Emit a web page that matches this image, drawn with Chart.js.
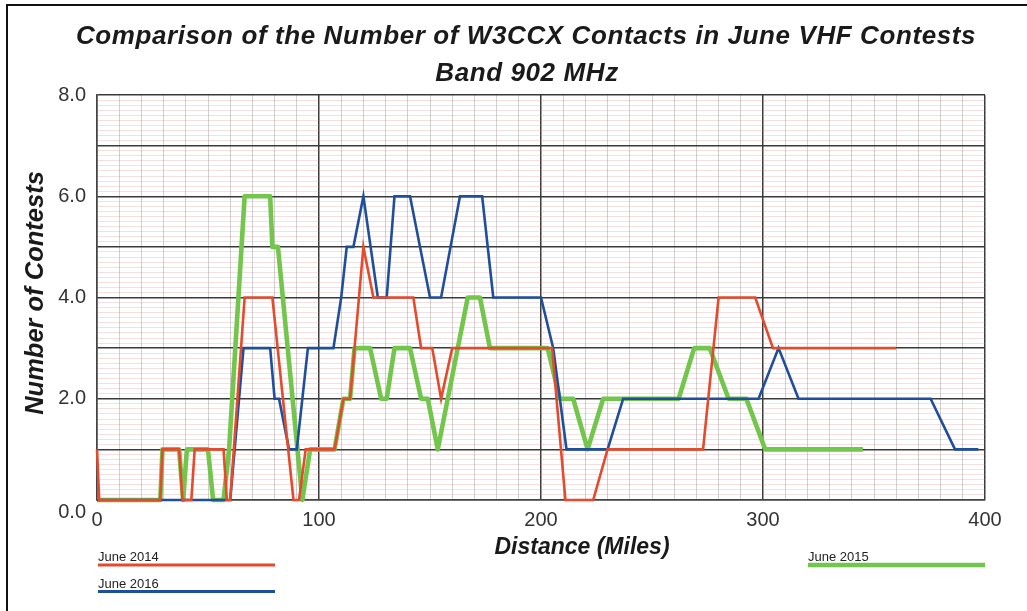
<!DOCTYPE html>
<html>
<head>
<meta charset="utf-8">
<script src="https://cdn.jsdelivr.net/npm/chart.js@4.4.1/dist/chart.umd.min.js"></script>
<style>
  html, body { margin: 0; padding: 0; background: #fff; }
  #wrap { position: relative; width: 1027px; height: 611px; }
</style>
</head>
<body>
<div id="wrap"><canvas id="myChart" width="1027" height="611"></canvas></div>
<script>
// 제목 / 축 이름
const titleLines = ['Comparison of the Number of W3CCX Contacts in June VHF Contests', 'Band 902 MHz'];
const xTitle = 'Distance (Miles)';
const yTitle = 'Number of Contests';

// June 2014 (빨강)
const dist2014 = [0, 1, 28.5, 29.5, 37, 38.5, 42.5, 44, 57, 58.5, 60, 66.5, 79, 88.5, 91, 94, 107, 111, 114, 120, 124.5, 142.5, 146, 151, 155, 160, 205, 211, 223.5, 230, 273, 280, 296.5, 304.5, 360];
const count2014 = [1, 0, 0, 1, 1, 0, 0, 1, 1, 0, 0, 4, 4, 0, 0, 1, 1, 2, 2, 5, 4, 4, 3, 3, 2, 3, 3, 0, 0, 1, 1, 4, 4, 3, 3];

// June 2016 (파랑)
const dist2016 = [0, 60, 66, 78, 80, 82, 86.5, 90, 95, 106.5, 110, 112.5, 115.5, 120, 126.5, 130.5, 134, 141, 150, 155, 163.5, 173.5, 178.5, 200, 205.5, 208.5, 211.5, 230, 237, 298, 307, 316, 375.5, 386.5, 397];
const count2016 = [0, 0, 3, 3, 2, 2, 1, 1, 3, 3, 4, 5, 5, 6, 4, 4, 6, 6, 4, 4, 6, 6, 4, 4, 3, 2, 1, 1, 2, 2, 3, 2, 2, 1, 1];

// June 2015 (초록)
const dist2015 = [0, 28.5, 29.5, 37, 38.8, 40.5, 50, 52.3, 57, 59.5, 66.5, 78, 79, 81.5, 92.5, 96, 107, 111, 114, 116, 123, 128, 130.5, 134, 141, 146, 149, 153.5, 162.5, 167, 172.5, 177, 203, 208.5, 214.5, 221, 228, 262, 269, 276, 284.5, 292.5, 301, 345];
const count2015 = [0, 0, 1, 1, 0, 1, 1, 0, 0, 1, 6, 6, 5, 5, 0, 1, 1, 2, 2, 3, 3, 2, 2, 3, 3, 2, 2, 1, 3, 4, 4, 3, 3, 2, 2, 1, 2, 2, 3, 3, 2, 2, 1, 1];

const RED = '#e44a2c';
const BLUE = '#1f4f9c';
const GREEN = '#72c64c';
const FONT = '"Liberation Sans", Arial, sans-serif';

function toPoints(xs, ys) {
  return xs.map((x, i) => ({ x: x, y: ys[i] }));
}

// 제목, 축 이름, 범례, 바깥 테두리
const decorations = {
  id: 'decorations',
  afterDraw(chart) {
    const ctx = chart.ctx;
    const area = chart.chartArea;
    ctx.save();

    ctx.strokeStyle = '#111';
    ctx.lineWidth = 2;
    ctx.beginPath();
    ctx.moveTo(7, 611);
    ctx.lineTo(7, 5);
    ctx.lineTo(1027, 5);
    ctx.stroke();

    ctx.fillStyle = '#1a1a1a';
    ctx.textAlign = 'center';
    ctx.textBaseline = 'alphabetic';
    ctx.font = 'italic bold 26px ' + FONT;
    ctx.letterSpacing = '0.6px';
    ctx.fillText(titleLines[0], 526, 44);
    ctx.fillText(titleLines[1], 527, 81);
    ctx.letterSpacing = '0px';

    ctx.font = 'italic bold 23px ' + FONT;
    ctx.fillText(xTitle, 582, 554);

    ctx.save();
    ctx.font = 'italic bold 25.5px ' + FONT;
    ctx.translate(43, 293);
    ctx.rotate(-Math.PI / 2);
    ctx.fillText(yTitle, 0, 0);
    ctx.restore();

    // 0.0 눈금은 원본처럼 조금 아래로
    ctx.textAlign = 'right';
    ctx.textBaseline = 'middle';
    ctx.fillStyle = '#333';
    ctx.font = '20px ' + FONT;
    ctx.fillText((0).toFixed(1), area.left - 11, chart.scales.y.getPixelForValue(0) + 12);

    // 범례
    const legend = [
      { label: 'June 2014', color: RED, width: 3, x0: area.left + 1, x1: 275, y: 565 },
      { label: 'June 2016', color: BLUE, width: 3, x0: area.left + 1, x1: 275, y: 591.5 },
      { label: 'June 2015', color: GREEN, width: 4.5, x0: 808, x1: area.right, y: 565 }
    ];
    ctx.textAlign = 'left';
    ctx.textBaseline = 'alphabetic';
    ctx.font = '13px ' + FONT;
    legend.forEach(item => {
      ctx.fillStyle = '#222';
      ctx.fillText(item.label, item.x0, item.y - 4);
      ctx.strokeStyle = item.color;
      ctx.lineWidth = item.width;
      ctx.beginPath();
      ctx.moveTo(item.x0, item.y);
      ctx.lineTo(item.x1, item.y);
      ctx.stroke();
    });

    ctx.restore();
  }
};

const ctx = document.getElementById('myChart').getContext('2d');
new Chart(ctx, {
  type: 'line',
  data: {
    datasets: [
      {
        label: 'June 2014',
        data: toPoints(dist2014, count2014),
        borderColor: RED,
        borderWidth: 2.6,
        pointRadius: 0,
        tension: 0,
        clip: false
      },
      {
        label: 'June 2016',
        data: toPoints(dist2016, count2016),
        borderColor: BLUE,
        borderWidth: 2.6,
        pointRadius: 0,
        tension: 0,
        clip: false
      },
      {
        label: 'June 2015',
        data: toPoints(dist2015, count2015),
        borderColor: GREEN,
        borderWidth: 4.6,
        borderJoinStyle: 'round',
        pointRadius: 0,
        tension: 0,
        clip: false
      }
    ]
  },
  options: {
    responsive: false,
    animation: false,
    devicePixelRatio: 1,
    layout: { padding: { top: 95, right: 42, left: 0, bottom: 0 } },
    plugins: {
      legend: { display: false },
      title: { display: false },
      tooltip: { enabled: false }
    },
    scales: {
      x: {
        type: 'linear',
        min: 0,
        max: 400,
        afterFit: s => { s.height = 111; },
        ticks: {
          stepSize: 10,
          autoSkip: false,
          maxRotation: 0,
          padding: 8,
          color: '#333',
          font: { family: FONT, size: 20 },
          callback: v => (Math.round(v) % 100 === 0 ? String(Math.round(v)) : '')
        },
        grid: {
          drawTicks: false,
          color: c => (Math.round(c.tick.value) % 100 === 0 ? '#3a3a3a' : 'rgba(150,140,140,0.42)'),
          lineWidth: c => (Math.round(c.tick.value) % 100 === 0 ? 1.5 : 1)
        },
        border: { color: '#444', width: 1.5 }
      },
      y: {
        min: 0,
        max: 8,
        afterFit: s => { s.width = 97; },
        ticks: {
          stepSize: 0.1,
          autoSkip: false,
          padding: 11,
          color: '#333',
          font: { family: FONT, size: 20 },
          // 0.0 은 플러그인에서 그림
          callback: v => {
            const r = Math.round(v * 10);
            return (r % 20 === 0 && r !== 0) ? v.toFixed(1) : '';
          }
        },
        grid: {
          drawTicks: false,
          color: c => (Math.round(c.tick.value * 10) % 10 === 0 ? '#3a3a3a' : 'rgba(210,130,130,0.25)'),
          lineWidth: c => (Math.round(c.tick.value * 10) % 10 === 0 ? 1.5 : 1)
        },
        border: { color: '#444', width: 1.5 }
      }
    }
  },
  plugins: [decorations]
});
</script>
</body>
</html>
